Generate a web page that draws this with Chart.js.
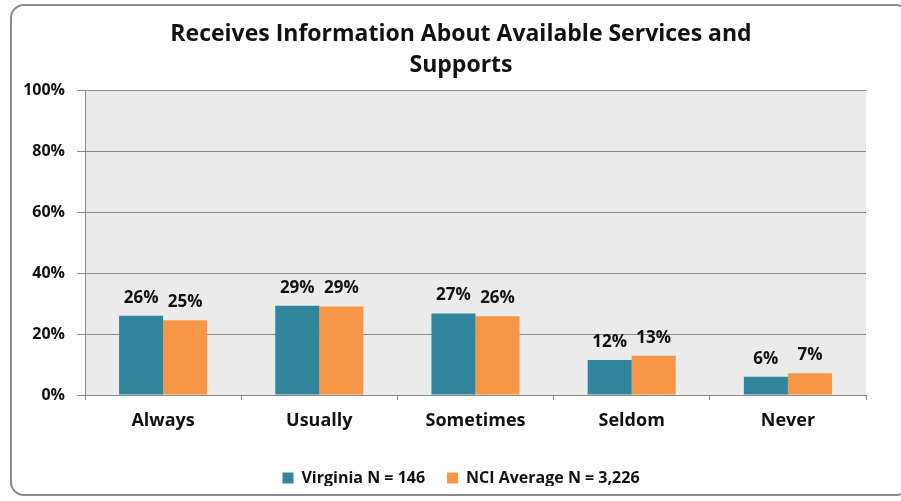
<!DOCTYPE html>
<html>
<head>
<meta charset="utf-8">
<script src="https://cdn.jsdelivr.net/npm/chart.js@4.4.0/dist/chart.umd.min.js"></script>
<style>
  html, body { margin: 0; padding: 0; background: #fff; overflow: hidden; }
  #wrap { position: relative; width: 901px; height: 501px; overflow: hidden; }
  #frame {
    position: absolute; left: 10px; top: 4px; width: 900px; height: 492px;
    border: 2px solid #8a8a8a; border-radius: 14px; box-sizing: border-box;
  }
  #chart { position: absolute; left: 0; top: 0; }
</style>
</head>
<body>
<div id="wrap">
  <div id="frame"></div>
  <canvas id="chart" width="910" height="501"></canvas>
</div>
<script>
// ── Data ─────────────────────────────────────────────────────
const categories   = ['Always', 'Usually', 'Sometimes', 'Seldom', 'Never'];
const virginiaData = [26.0, 29.3, 26.7, 11.5, 6.0];
const nciData      = [24.5, 29.0, 25.8, 12.9, 7.1];
const seriesNames  = ['Virginia N = 146', 'NCI Average N = 3,226'];
const yTicks       = [0, 20, 40, 60, 80, 100];

const FONT = "'Open Sans', sans-serif";
const GRID = '#8a8a8a';

// ── Plugins ──────────────────────────────────────────────────
const plotBg = {
    id: 'plotBg',
    beforeDraw(chart) {
        const { ctx, chartArea: a } = chart;
        ctx.save();
        ctx.fillStyle = '#ebebeb';
        ctx.fillRect(a.left, a.top, a.right - a.left, a.bottom - a.top);
        ctx.restore();
    },
};

const barLabels = {
    id: 'barLabels',
    afterDatasetsDraw(chart) {
        const { ctx } = chart;
        ctx.save();
        ctx.font = `bold 17px ${FONT}`;
        ctx.fillStyle = '#111';
        ctx.textAlign = 'center';
        ctx.textBaseline = 'middle';
        chart.data.datasets.forEach((ds, i) => {
            chart.getDatasetMeta(i).data.forEach((bar, j) => {
                ctx.fillText(Math.round(ds.data[j]) + '%', bar.x, bar.y - 18);
            });
        });
        ctx.restore();
    },
};

// ── Chart ────────────────────────────────────────────────────
new Chart(document.getElementById('chart'), {
    type: 'bar',
    data: {
        labels: categories,
        datasets: [
            { label: seriesNames[0], data: virginiaData, backgroundColor: '#31859c' },
            { label: seriesNames[1], data: nciData, backgroundColor: '#f79646' },
        ],
    },
    options: {
        responsive: false,
        animation: false,
        events: [],
        categoryPercentage: 0.564,
        barPercentage: 1.0,
        layout: { padding: { left: 14, right: 2, top: 10, bottom: 15 } },
        plugins: {
            title: {
                display: true,
                text: ['Receives Information About Available Services and', 'Supports'],
                color: '#111',
                font: { family: FONT, size: 23, weight: 'bold', lineHeight: 1.35 },
                padding: { top: 9, bottom: 9 },
            },
            legend: {
                position: 'bottom',
                maxHeight: 38,
                labels: {
                    color: '#111',
                    boxWidth: 11,
                    boxHeight: 11,
                    padding: 22,
                    font: { family: FONT, size: 16, weight: 'bold' },
                },
            },
            tooltip: { enabled: false },
        },
        scales: {
            x: {
                afterFit: s => { s.height = 53; },
                grid: { drawOnChartArea: false, tickLength: 5, color: GRID },
                border: { color: GRID },
                ticks: {
                    color: '#111',
                    padding: 10,
                    font: { family: FONT, size: 18, weight: 'bold' },
                },
            },
            y: {
                min: 0,
                max: 100,
                afterFit: s => { s.width = 71; },
                afterBuildTicks: s => { s.ticks = yTicks.map(v => ({ value: v })); },
                grid: { color: GRID, tickLength: 8 },
                border: { color: GRID },
                ticks: {
                    color: '#111',
                    padding: 12,
                    font: { family: FONT, size: 16, weight: 'bold' },
                    callback: v => v + '%',
                },
            },
            // empty right-hand box: keeps the plot's right edge while title/legend centre on the frame
            spacer: {
                position: 'right',
                afterFit: s => { s.width = 42; },
                grid: { display: false },
                border: { display: false },
                ticks: { display: false },
            },
        },
    },
    plugins: [plotBg, barLabels],
});
</script>
</body>
</html>
